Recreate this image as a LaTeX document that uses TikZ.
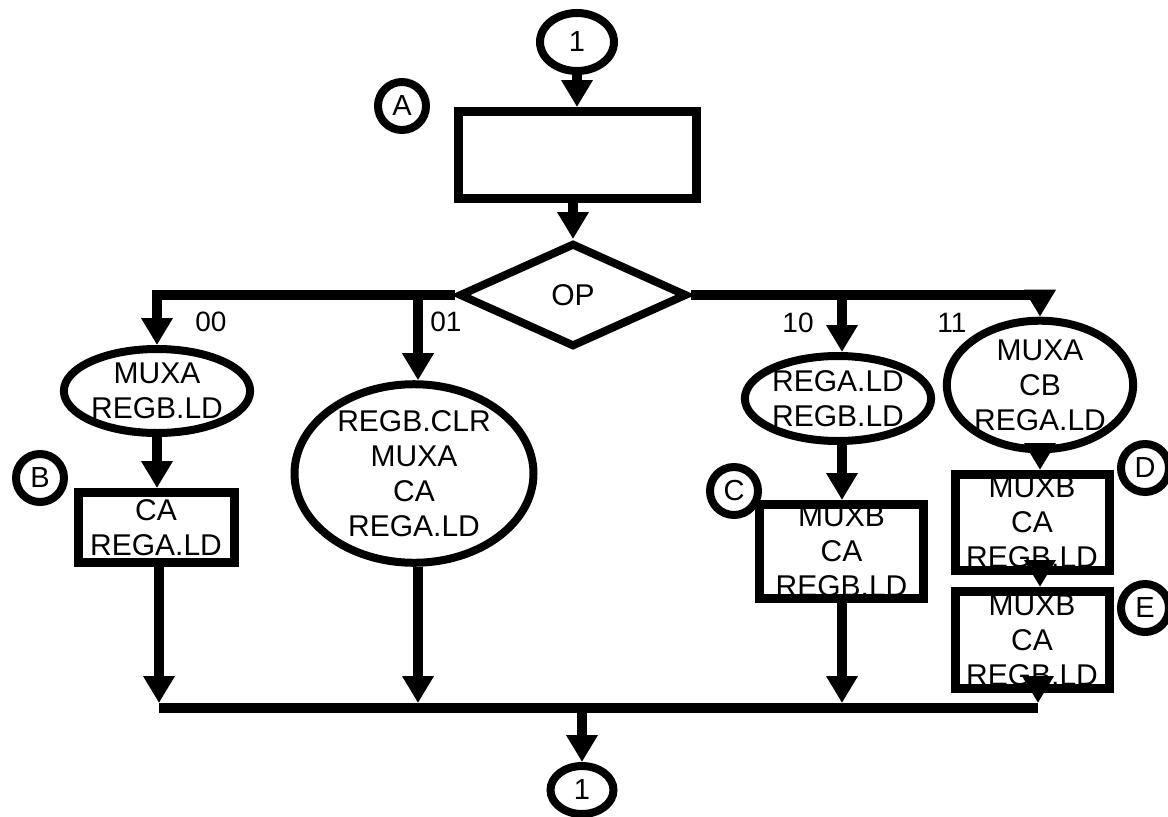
\documentclass[tikz,border=0pt]{standalone}
\usepackage{fontspec}
\setmainfont{Liberation Sans}
\usetikzlibrary{shapes.geometric,arrows.meta}
\begin{document}
\begin{tikzpicture}[x=1pt,y=-1pt,
  txt/.style={font=\fontsize{30}{35}\selectfont, align=center, inner sep=0pt},
  box/.style={txt, draw, rectangle, line width=9pt},
  oval/.style={txt, draw, ellipse, line width=8pt},
  tag/.style={draw, circle, line width=8pt, minimum size=48pt, inner sep=0pt, font=\fontsize{29}{32}\selectfont},
  conn/.style={draw, ellipse, line width=8pt, inner sep=0pt, font=\fontsize{29}{32}\selectfont},
  lbl/.style={font=\fontsize{28}{30}\selectfont, inner sep=0pt},
  wire/.style={line width=10pt},
  arr/.style={wire, -{Triangle[width=30pt,length=27pt]}},
]
\useasboundingbox (0,0) rectangle (1168,817);

% nodes
\node[conn, minimum width=74pt, minimum height=58pt] (top1) at (577,42) {1};
\node[box, minimum width=238pt, minimum height=87pt] (A) at (577,155) {};
\node[tag] (tA) at (402,106) {A};
\node[txt, draw, diamond, line width=8pt, minimum width=228pt, minimum height=104pt] (op) at (573,295) {OP};

\node[oval, minimum width=155pt, minimum height=84pt] (e1) at (157,391) {MUXA\\REGB.LD};
\node[box, minimum width=156pt, minimum height=70pt] (rB) at (156,527.5) {CA\\REGA.LD};
\node[tag] (tB) at (40,478) {B};

\node[oval, minimum width=239pt, minimum height=159pt] (e2) at (414,473.5) {REGB.CLR\\MUXA\\CA\\REGA.LD};

\node[oval, minimum width=154pt, minimum height=85pt] (e3) at (838,398.5) {REGA.LD\\REGB.LD};
\node[box, minimum width=164pt, minimum height=94pt] (rC) at (841.5,551.5) {MUXB\\CA\\REGB.LD};
\node[tag] (tC) at (734,491) {C};

\node[oval, minimum width=159pt, minimum height=116pt] (e4) at (1040,385) {MUXA\\CB\\REGA.LD};
\node[box, minimum width=154pt, minimum height=96pt] (rD) at (1032,522.5) {MUXB\\CA\\REGB.LD};
\node[box, minimum width=154pt, minimum height=97pt] (rE) at (1032,640) {MUXB\\CA\\REGB.LD};
\node[tag] (tD) at (1145,468) {D};
\node[tag] (tE) at (1145,608) {E};

\node[conn, minimum width=63pt, minimum height=48pt] (bot1) at (582,790) {1};

% branch labels
\node[lbl] (l00) at (211,322) {00};
\node[lbl] (l01) at (446,322) {01};
\node[lbl] (l10) at (798,323) {10};
\node[lbl] (l11) at (952,323) {11};

% junctions
\coordinate (j01) at (418,295);
\coordinate (j10) at (842,295);
\coordinate (bl) at (159,708);
\coordinate (br) at (1038,708);
\coordinate (mid) at (582,708);

% connectors
\draw[arr] (top1.south) -- (top1.south |- A.north);
\draw[arr] (A.south -| op.north) -- (op.north);
\draw[arr] (op.west) -| (e1.north);
\draw[arr] (op.east) -| (e4.north);
\draw[arr] (j01) -- (j01 |- e2.north);
\draw[arr] (j10) -- (j10 |- e3.north);
\draw[arr] (e1.south) -- (e1.south |- rB.north);
\draw[arr] (e3.south -| j10) -- (j10 |- rC.north);
\draw[arr] (e4.south) -- (e4.south |- rD.north);
\draw[arr] (rD.south -| e4.south) -- (e4.south |- rE.north);

\draw[wire] (bl) -- (br);
\draw[arr, shorten >=5pt] (rB.south -| bl) -- (bl);
\draw[arr, shorten >=5pt] (e2.south -| j01) -- (j01 |- bl);
\draw[arr, shorten >=5pt] (rC.south -| j10) -- (j10 |- bl);
\draw[arr, shorten >=5pt] (rE.south -| br) -- (br);
\draw[arr] (mid) -- (bot1.north);
\end{tikzpicture}
\end{document}
